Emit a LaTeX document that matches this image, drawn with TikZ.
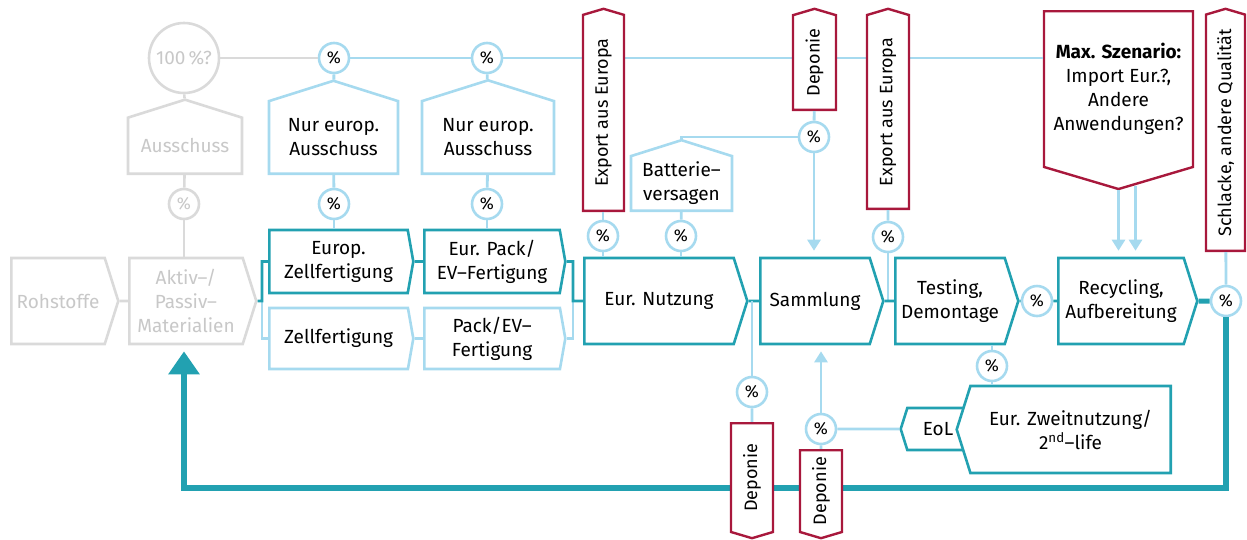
\documentclass[tikz,border=0pt]{standalone}
\usepackage{fontspec}
\setmainfont{Fira Sans}
\usepackage{xcolor}
\usepackage{tikz}
\usetikzlibrary{shapes,arrows,arrows.meta,positioning}

\definecolor{petrol}{HTML}{22A1B1}
\definecolor{skyblue}{HTML}{A6DAEF}
\definecolor{wine}{HTML}{A8183C}
\definecolor{lightgrey}{HTML}{DADADA}
\definecolor{greytext}{HTML}{C8C8C8}

\begin{document}
\begin{tikzpicture}[
    x=1pt, y=-1pt,
    font=\fontsize{19}{24}\selectfont,
    process/.style={signal, signal to=east, signal pointer angle=145, draw=petrol, fill=white, line width=2.6pt, align=center, inner sep=0pt},
    option/.style={process, draw=skyblue},
    upstream/.style={process, draw=lightgrey, text=greytext},
    waste/.style={signal, signal to=north, signal pointer angle=145, draw=skyblue, fill=white, line width=2.6pt, align=center, inner sep=0pt},
    sinkbox/.style={signal, signal to=east, signal pointer angle=147, draw=wine, fill=white, line width=2.4pt, align=center, inner sep=0pt},
    sinkv/.style={sinkbox, rotate=90, font=\fontsize{18}{22}\selectfont},
    pct/.style={circle, draw=skyblue, fill=white, line width=2.6pt, minimum size=30pt, inner sep=0pt, font=\fontsize{17}{20}\selectfont},
    mainflow/.style={draw=petrol, line width=2.6pt},
    sideflow/.style={draw=skyblue, line width=2.8pt},
    sidearrow/.style={sideflow, -{Triangle[width=13pt,length=11pt]}, shorten >=6pt},
    greyflow/.style={draw=lightgrey, line width=2.6pt},
    backflow/.style={draw=petrol, line width=6pt}
]
\useasboundingbox (0,0) rectangle (1247,539);

% Upstream (grey)
\node[circle, draw=lightgrey, line width=2.6pt, minimum size=70pt, inner sep=0pt, text=greytext] (total) at (184,58) {100\,\%?};
\node[waste, draw=lightgrey, text=greytext, anchor=south, minimum width=114pt, minimum height=70pt] (scrap) at (185,175) {Ausschuss};
\node[pct, draw=lightgrey, text=greytext] (pscrap) at (184,204) {\%};
\node[upstream, anchor=west, minimum width=107pt, minimum height=86pt] (raw) at (10,301) {Rohstoffe};
\node[upstream, anchor=west, minimum width=127pt, minimum height=86pt] (material) at (128,301) {Aktiv--/\\Passiv--\\Materialien};

% Cell and pack production
\node[process, anchor=west, minimum width=144pt, minimum height=63pt, signal pointer angle=160] (cellEU) at (268,261.5) {Europ.\\Zellfertigung};
\node[process, anchor=west, minimum width=141pt, minimum height=63pt, signal pointer angle=160] (packEU) at (423,261.5) {Eur. Pack/\\EV--Fertigung};
\node[option, anchor=west, minimum width=144pt, minimum height=61pt, signal pointer angle=160] (cell) at (268,338.5) {Zellfertigung};
\node[option, anchor=west, minimum width=141pt, minimum height=61pt, signal pointer angle=160] (pack) at (423,338.5) {Pack/EV--\\Fertigung};

% European scrap
\node[pct] (p1) at (334,58) {\%};
\node[pct] (p2) at (487,58) {\%};
\node[waste, anchor=south, minimum width=129pt, minimum height=87pt] (scrapEU1) at (333.5,175) {Nur europ.\\Ausschuss};
\node[waste, anchor=south, minimum width=132pt, minimum height=87pt] (scrapEU2) at (488,175) {Nur europ.\\Ausschuss};
\node[pct] (p3) at (334,204) {\%};
\node[pct] (p4) at (487,204) {\%};

% Use phase and end of life
\node[process, anchor=west, minimum width=163pt, minimum height=86pt] (use) at (583,301) {Eur. Nutzung};
\node[process, anchor=west, minimum width=123pt, minimum height=86pt] (collect) at (759,301) {Sammlung};
\node[process, anchor=west, minimum width=123pt, minimum height=86pt] (testing) at (894,301) {Testing,\\Demontage};
\node[process, anchor=west, minimum width=139pt, minimum height=86pt] (recycling) at (1057,301) {Recycling,\\Aufbereitung};
\node[waste, anchor=south, minimum width=101pt, minimum height=67pt] (failure) at (681.5,212) {Batterie--\\versagen};
\node[pct] (p5) at (603,236) {\%};
\node[pct] (p6) at (681,236) {\%};
\node[pct] (p7) at (814,137) {\%};
\node[pct] (p8) at (888,237) {\%};
\node[pct] (p9) at (1037,301) {\%};
\node[pct] (p10) at (1226,301) {\%};
\node[pct] (p11) at (992,366) {\%};
\node[pct] (p12) at (752,392) {\%};
\node[pct] (p13) at (821,429) {\%};

% Second life
\node[process, signal to=west, anchor=east, minimum width=68pt, minimum height=42pt] (eol) at (970,429) {EoL};
\node[process, signal to=west, anchor=east, minimum width=214pt, minimum height=87pt] (second) at (1172,429.5) {Eur. Zweitnutzung/\\2\textsuperscript{nd}--life};

% Max scenario
\node[sinkbox, signal to=south, anchor=north, minimum width=149pt, minimum height=175pt] (maxscen) at (1118.5,10) {\textbf{Max. Szenario:}\\Import Eur.?,\\Andere\\Anwendungen?};

% Grey lines
\draw[greyflow] (total) -- (p1);
\draw[greyflow] (total) -- (scrap);
\draw[greyflow] (scrap) -- (pscrap);
\draw[greyflow] (pscrap) -- (pscrap |- material.north);
\draw[greyflow] (raw) -- (material);

% Top line (behind the sinks)
\draw[sideflow] (p1) -- (p2);
\draw[sideflow] (p2) -- (p2 -| maxscen.west);

% Sinks on top
\node[sinkv, anchor=west, minimum width=202pt, minimum height=41pt] (export1) at (603.5,212) {Export aus Europa};
\node[sinkv, anchor=west, minimum width=101pt, minimum height=43pt] (landfillTop) at (814.5,111) {Deponie};
\node[sinkv, anchor=west, minimum width=200pt, minimum height=42pt] (export2) at (888,210) {Export aus Europa};
\node[sinkv, anchor=west, minimum width=242pt, minimum height=39pt] (slag) at (1225.5,252) {Schlacke, andere Qualität};

% Scrap feed
\draw[sideflow] (p1) -- (scrapEU1);
\draw[sideflow] (scrapEU1) -- (p3);
\draw[sideflow] (p3) -- (p3 |- cellEU.north);
\draw[sideflow] (p2) -- (scrapEU2);
\draw[sideflow] (scrapEU2) -- (p4);
\draw[sideflow] (p4) -- (p4 |- packEU.north);

% Production chain
\coordinate (splitA) at (262,301);
\coordinate (joinA) at (573,301);
\draw[sideflow] (splitA) |- (cell);
\draw[sideflow] (cell) -- (pack);
\draw[sideflow] (pack) -| (joinA);
\draw[mainflow] (material) -- (splitA) |- (cellEU);
\draw[mainflow] (cellEU) -- (packEU);
\draw[mainflow] (packEU) -| (joinA) -- (use);

% Use phase
\draw[sideflow] (p5) -- (p5 |- export1.west);
\draw[sideflow] (p5) -- (p5 |- use.north);
\draw[sideflow] (p6) -- (failure);
\draw[sideflow] (p6) -- (p6 |- use.north);
\draw[sideflow] (p7) -- (landfillTop);
\draw[sideflow] (p7) -| (failure);
\draw[sidearrow] (p7) -- (p7 |- collect.north);
\coordinate (splitB) at (752,301);
\draw[mainflow] (use) -- (collect);
\draw[sideflow] (splitB) -- (p12);

% Collection and testing
\coordinate (joinB) at (888,301);
\draw[sideflow] (p8) -- (export2);
\draw[sideflow] (p8) -- (joinB);
\draw[mainflow] (collect) -- (testing);
\draw[mainflow] (testing) -- (p9);
\draw[mainflow] (p9) -- (recycling);
\draw[sideflow] (p11) -- (p11 |- testing.south);
\draw[sideflow] (p11) -- (p11 |- second.north);
\draw[sideflow] (p13) -- (eol);
\draw[sidearrow] (p13) -- (p13 |- collect.south);

% Recycling
\draw[sidearrow] (maxscen.south) -- (maxscen.south |- recycling.north);
\draw[sidearrow] ([xshift=17pt, yshift=4.5pt]maxscen.south) -- ([xshift=17pt]maxscen.south |- recycling.north);
\draw[sideflow] (p10) -- (slag);
\draw[backflow, draw=petrol, line width=5pt] (recycling) -- (p10);

% Back to materials
\coordinate (loopR) at (1226,488);
\coordinate (loopL) at (184,488);
\draw[backflow, -{Triangle[width=30pt,length=23pt]}, shorten >=6pt] (p10) -- (loopR) -- (loopL) -- (loopL |- material.south);

% Landfill at the bottom
\node[sinkv, signal to=west, anchor=east, minimum width=115pt, minimum height=42pt] (landfillA) at (752,422) {Deponie};
\node[sinkv, signal to=west, anchor=east, minimum width=88pt, minimum height=42pt] (landfillB) at (821,449) {Deponie};
\draw[sideflow] (p12) -- (landfillA);
\draw[sideflow] (p13) -- (landfillB);

\end{tikzpicture}
\end{document}
